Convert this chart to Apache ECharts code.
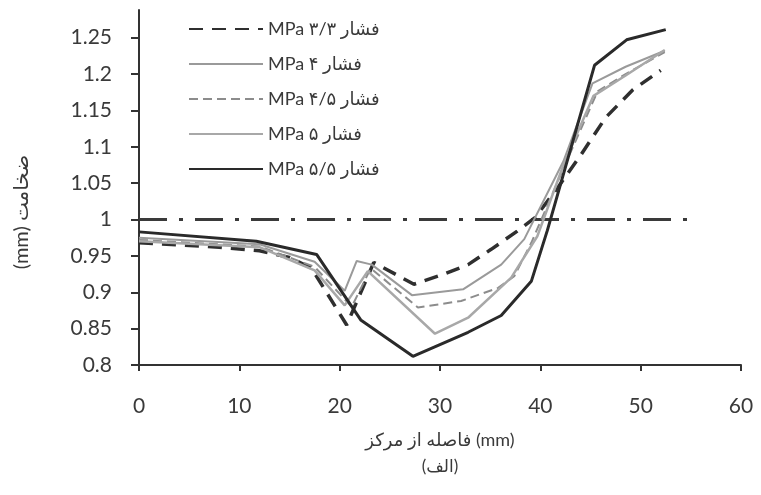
<!DOCTYPE html>
<html>
<head>
<meta charset="utf-8">
<script src="https://cdn.jsdelivr.net/npm/echarts@6/dist/echarts.min.js"></script>
<style>html,body{margin:0;padding:0;background:#fff}#c{width:761px;height:495px}</style>
</head>
<body>
<div id="c"></div>
<script>
// ---- data ----
const seriesNames = ['MPa فشار ۳/۳', 'MPa فشار ۴', 'MPa فشار ۴/۵', 'MPa فشار ۵', 'MPa فشار ۵/۵'];

const x3_3 = [0, 8, 12, 15, 17.2, 20.7, 23.4, 27.4, 30.4, 32.8, 35.1, 37.7, 39.5, 41.8, 44.1, 46.5, 49.2, 52];
const y3_3 = [0.968, 0.962, 0.957, 0.948, 0.933, 0.855, 0.941, 0.911, 0.925, 0.938, 0.959, 0.984, 1.003, 1.045, 1.09, 1.14, 1.178, 1.205];

const x4 = [0, 12, 17.5, 20.5, 21.7, 23.2, 27.2, 32.3, 36.1, 38.4, 42.3, 45.2, 48.5, 52.4];
const y4 = [0.975, 0.966, 0.942, 0.902, 0.943, 0.938, 0.896, 0.904, 0.938, 0.973, 1.08, 1.187, 1.21, 1.232];

const x4_5 = [0, 12, 17.5, 21.2, 23.1, 27.8, 32.1, 35.8, 37.4, 39.1, 42.3, 45.7, 48.5, 52.4];
const y4_5 = [0.972, 0.963, 0.935, 0.88, 0.933, 0.879, 0.888, 0.906, 0.922, 0.968, 1.07, 1.176, 1.2, 1.23];

const x5 = [0, 12, 17.5, 20.5, 22.8, 29.5, 32.8, 37.1, 39.7, 42.3, 45.3, 48.5, 52.4];
const y5 = [0.97, 0.962, 0.93, 0.882, 0.929, 0.843, 0.865, 0.92, 0.977, 1.075, 1.17, 1.198, 1.233];

const x5_5 = [0, 11.7, 17.7, 22.1, 27.3, 32.8, 36.1, 39.1, 40.7, 45.4, 48.6, 52.5];
const y5_5 = [0.983, 0.970, 0.952, 0.862, 0.812, 0.845, 0.868, 0.915, 0.985, 1.212, 1.247, 1.261];

const refX = [0, 55.5];
const refY = [1, 1];

const yTicks = [0.8, 0.85, 0.9, 0.95, 1, 1.05, 1.1, 1.15, 1.2, 1.25];
const xTicks = [0, 10, 20, 30, 40, 50, 60];

const xName = 'فاصله از مرکز (mm)';
const yName = '(mm) ضخامت';
const caption = '(الف)';

// ---- chart ----
const FONT = "Lato, 'DejaVu Sans', sans-serif";
const TXT = '#3a3a3a';
function pairs(xs, ys) { return xs.map((x, i) => [x, ys[i]]); }

const chart = echarts.init(document.getElementById('c'), null, { renderer: 'canvas' });
chart.setOption({
  animation: false,
  backgroundColor: '#ffffff',
  grid: { left: 139, right: 20, top: 10, bottom: 130, containLabel: false, outerBoundsMode: 'none' },
  legend: {
    data: seriesNames,
    orient: 'vertical',
    left: 183,
    top: 14,
    itemWidth: 74,
    itemHeight: 20,
    itemGap: 15,
    itemStyle: { opacity: 0 },
    textStyle: { fontFamily: FONT, fontSize: 18, color: TXT, lineHeight: 20 },
    selectedMode: false
  },
  xAxis: {
    type: 'value', min: 0, max: 60, interval: 10,
    axisLine: { show: true, lineStyle: { color: '#333', width: 2 } },
    axisTick: { show: true, length: 6, inside: false, lineStyle: { color: '#333', width: 2 } },
    axisLabel: { margin: 31, fontFamily: FONT, fontSize: 21, color: TXT, customValues: xTicks },
    splitLine: { show: false },
    name: xName, nameLocation: 'middle', nameGap: 66,
    nameTextStyle: { fontFamily: FONT, fontSize: 18, color: TXT }
  },
  yAxis: {
    type: 'value', min: 0.8, max: 1.288, interval: 0.05,
    axisLine: { show: true, lineStyle: { color: '#333', width: 2 } },
    axisTick: { show: true, length: 8, inside: false, lineStyle: { color: '#333', width: 2 }, customValues: yTicks },
    axisLabel: { margin: 27, fontFamily: FONT, fontSize: 21, color: TXT, customValues: yTicks },
    splitLine: { show: false }
  },
  graphic: [
    { type: 'text', x: 440, y: 467,
      style: { text: caption, font: '17px ' + FONT, fill: TXT, align: 'center', verticalAlign: 'middle' } },
    { type: 'text', rotation: Math.PI / 2, x: 22, y: 212,
      style: { text: yName, font: '20px ' + FONT, fill: TXT, align: 'center', verticalAlign: 'middle' } }
  ],
  series: [
    { name: 'ref', type: 'line', data: pairs(refX, refY), symbol: 'none', silent: true,
      lineStyle: { color: '#3a3a3a', width: 3, type: [28, 12, 4, 12] }, z: 1 },
    { name: seriesNames[0], type: 'line', data: pairs(x3_3, y3_3), symbol: 'none',
      lineStyle: { color: '#2f2f2f', width: 3.5, type: [14, 9] }, itemStyle: { color: '#2f2f2f' } },
    { name: seriesNames[1], type: 'line', data: pairs(x4, y4), symbol: 'none',
      lineStyle: { color: '#9a9a9a', width: 2 }, itemStyle: { color: '#9a9a9a' } },
    { name: seriesNames[2], type: 'line', data: pairs(x4_5, y4_5), symbol: 'none',
      lineStyle: { color: '#8c8c8c', width: 2, type: [9, 5] }, itemStyle: { color: '#8c8c8c' } },
    { name: seriesNames[3], type: 'line', data: pairs(x5, y5), symbol: 'none',
      lineStyle: { color: '#a8a8a8', width: 2.5 }, itemStyle: { color: '#a8a8a8' } },
    { name: seriesNames[4], type: 'line', data: pairs(x5_5, y5_5), symbol: 'none',
      lineStyle: { color: '#2a2a2a', width: 3 }, itemStyle: { color: '#2a2a2a' } }
  ]
});
</script>
</body>
</html>
